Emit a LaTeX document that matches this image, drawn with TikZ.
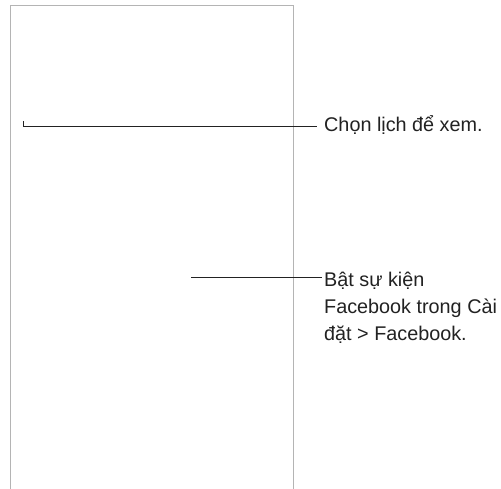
\documentclass[tikz,border=0pt]{standalone}
\usepackage{fontspec}
\setmainfont{Liberation Sans}
\definecolor{framegray}{HTML}{B4B4B4}
\definecolor{ink}{HTML}{222222}
\begin{document}
\begin{tikzpicture}[x=1pt,y=-1pt,
  callout/.style={font=\fontsize{19.8}{27}\selectfont, inner sep=0pt, text=ink},
  leader/.style={draw=ink, line width=1pt}]
\useasboundingbox[fill=white] (0,0) rectangle (501,488);
% phone outline (open at the bottom)
\draw[framegray, line width=1pt] (10,490) -- (10,5) -- (293.5,5) -- (293.5,490);
% callouts
\node[callout, anchor=base west] (t1) at (324,131) {Chọn lịch để xem.};
\node[callout, anchor=base west] (t2) at (324,286)
  {\begin{tabular}[t]{@{}l@{}}Bật sự kiện\\Facebook trong Cài\\đặt > Facebook.\end{tabular}};
\coordinate (p1) at (23,126);
\coordinate (p1a) at (23,121);
\coordinate (e1) at (317,126);
\coordinate (p2) at (191,277);
\coordinate (e2) at (322,277);
\draw[leader] (p1a) -- (p1) -- (e1);
\draw[leader] (p2) -- (e2);
\end{tikzpicture}
\end{document}
